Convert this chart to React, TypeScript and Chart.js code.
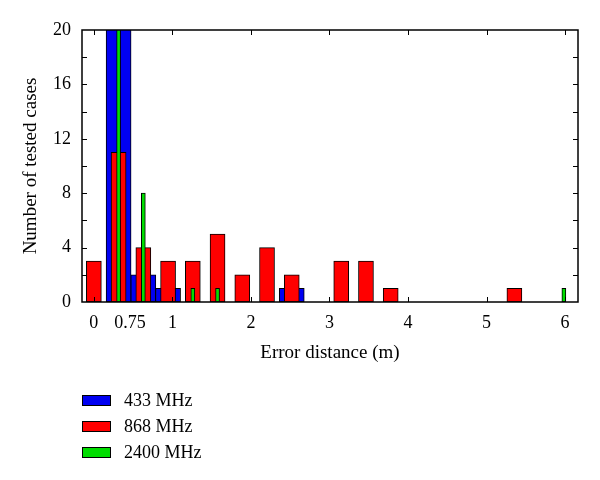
import React, { useEffect, useRef } from "react";
import { Chart, registerables } from "chart.js";

Chart.register(...registerables);

// Bin centres of the histogram (metres)
const binCenters = [0, 0.315, 0.63, 0.945, 1.26, 1.575, 1.89, 2.205, 2.52, 2.835, 3.15, 3.465, 3.78, 4.095, 4.41, 4.725, 5.04, 5.355, 5.67, 5.985];
// Number of tested cases per bin
const counts433 = [0, 26, 2, 1, 0, 0, 0, 0, 1, 0, 0, 0, 0, 0, 0, 0, 0, 0, 0, 0];
const counts868 = [3, 11, 4, 3, 3, 5, 2, 4, 2, 0, 3, 3, 1, 0, 0, 0, 0, 1, 0, 0];
const counts2400 = [0, 21, 8, 0, 1, 1, 0, 0, 0, 0, 0, 0, 0, 0, 0, 0, 0, 0, 0, 1];

const seriesNames = ["433 MHz", "868 MHz", "2400 MHz"];
const seriesColors = ["#0000f2", "#ff0000", "#00dd00"];

const xTickValues = [0, 0.46, 1, 2, 3, 4, 5, 6];
const xTickLabels = ["0", "0.75", "1", "2", "3", "4", "5", "6"];
const xMarkValues = [0, 1, 2, 3, 4, 5, 6];
const yTickValues = [0, 4, 8, 12, 16, 20];
const yMarkValues = [2, 4, 6, 8, 10, 12, 14, 16, 18];

const FONT = "'Liberation Serif', 'DejaVu Serif', serif";

const framePlugin = {
  id: "frame",
  afterDatasetsDraw(chart: any) {
    const { ctx, chartArea } = chart;
    const { left, right, top, bottom } = chartArea;
    const x = chart.scales.x;
    const y = chart.scales.y;
    ctx.save();
    ctx.strokeStyle = "#000";
    ctx.lineWidth = 1;
    ctx.beginPath();
    for (const v of xMarkValues) {
      const px = Math.round(x.getPixelForValue(v)) + 0.5;
      ctx.moveTo(px, bottom);
      ctx.lineTo(px, bottom - 5);
      ctx.moveTo(px, top);
      ctx.lineTo(px, top + 5);
    }
    for (const v of yMarkValues) {
      const py = Math.round(y.getPixelForValue(v)) + 0.5;
      ctx.moveTo(left, py);
      ctx.lineTo(left + 5, py);
      ctx.moveTo(right, py);
      ctx.lineTo(right - 5, py);
    }
    ctx.stroke();
    ctx.lineWidth = 1.5;
    ctx.strokeRect(left, top, right - left, bottom - top);
    ctx.restore();
  },
};

export default function App() {
  const canvasRef = useRef<HTMLCanvasElement | null>(null);

  useEffect(() => {
    const canvas = canvasRef.current;
    if (!canvas) return;
    const allCounts = [counts433, counts868, counts2400];
    const thickness = [25, 15, 4];
    const order = [3, 2, 1];
    const chart = new Chart(canvas, {
      type: "bar",
      data: {
        datasets: allCounts.map((counts, i) => ({
          label: seriesNames[i],
          data: binCenters.map((c, k) => ({ x: c, y: counts[k] > 0 ? counts[k] : null })),
          backgroundColor: seriesColors[i],
          borderColor: "#000",
          borderWidth: 1,
          borderSkipped: false,
          barThickness: thickness[i],
          grouped: false,
          order: order[i],
        })) as any,
      },
      options: {
        animation: false,
        responsive: false,
        maintainAspectRatio: false,
        layout: { padding: { left: 0, right: 22, top: 30, bottom: 108 } },
        plugins: {
          legend: { display: false },
          tooltip: { enabled: false },
        },
        scales: {
          x: {
            type: "linear",
            min: -0.151,
            max: 6.165,
            offset: false,
            grid: { display: false, offset: false, drawTicks: false },
            border: { display: false },
            afterBuildTicks: (s: any) => {
              s.ticks = xTickValues.map((v) => ({ value: v }));
            },
            afterFit: (s: any) => {
              s.height = 70;
            },
            ticks: {
              autoSkip: false,
              maxRotation: 0,
              padding: 10,
              color: "#000",
              font: { family: FONT, size: 18 },
              callback: (v: any) => {
                const idx = xTickValues.indexOf(Number(v));
                return idx >= 0 ? xTickLabels[idx] : "";
              },
            },
            title: {
              display: true,
              text: "Error distance (m)",
              color: "#000",
              font: { family: FONT, size: 19 },
              padding: { top: 0, bottom: 8 },
            },
          },
          y: {
            type: "linear",
            min: 0,
            max: 20,
            grid: { display: false, drawTicks: false },
            border: { display: false },
            afterBuildTicks: (s: any) => {
              s.ticks = yTickValues.map((v) => ({ value: v }));
            },
            afterFit: (s: any) => {
              s.width = 82;
            },
            ticks: {
              autoSkip: false,
              padding: 11,
              color: "#000",
              font: { family: FONT, size: 18 },
            },
            title: {
              display: true,
              text: "Number of tested cases",
              color: "#000",
              font: { family: FONT, size: 19 },
              padding: { top: 20, bottom: 0 },
            },
          },
        },
      },
      plugins: [framePlugin],
    });
    return () => chart.destroy();
  }, []);

  return (
    <div style={{ position: "fixed", left: 0, top: 0, width: 600, height: 480, background: "#fff" }}>
      <canvas ref={canvasRef} width={600} height={480} style={{ display: "block" }} />
      <div style={{ position: "absolute", left: 82, top: 387, fontFamily: FONT, fontSize: 18, color: "#000" }}>
        {seriesNames.map((name, i) => (
          <div key={name} style={{ display: "flex", alignItems: "center", height: 26 }}>
            <span
              style={{
                display: "inline-block",
                width: 27,
                height: 9,
                background: seriesColors[i],
                border: "1px solid #000",
                marginRight: 13,
              }}
            />
            <span>{name}</span>
          </div>
        ))}
      </div>
    </div>
  );
}
